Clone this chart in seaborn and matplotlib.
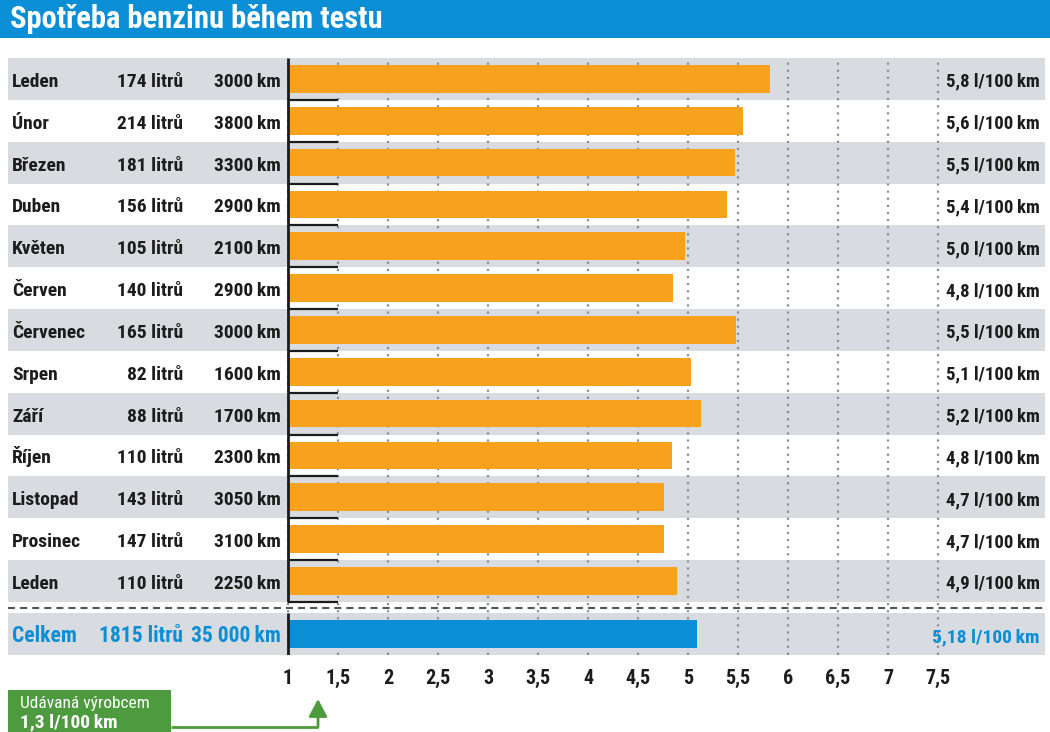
import numpy as np
import pandas as pd
import seaborn as sns
import matplotlib.pyplot as plt
from matplotlib.patches import Rectangle
from matplotlib.transforms import blended_transform_factory

THIN = "\u2009"

# data
months = ["Leden", "Únor", "Březen", "Duben", "Květen", "Červen", "Červenec",
          "Srpen", "Září", "Říjen", "Listopad", "Prosinec", "Leden"]
litres = ["174 litrů", "214 litrů", "181 litrů", "156 litrů", "105 litrů", "140 litrů",
          "165 litrů", "82 litrů", "88 litrů", "110 litrů", "143 litrů", "147 litrů",
          "110 litrů"]
distance = ["3000", "3800", "3300", "2900", "2100", "2900", "3000",
            "1600", "1700", "2300", "3050", "3100", "2250"]
consumption = ["5,8", "5,6", "5,5", "5,4", "5,0", "4,8", "5,5", "5,1",
               "5,2", "4,8", "4,7", "4,7", "4,9"]
# bar lengths as drawn in the original (l/100 km)
bar_values = [5.82, 5.55, 5.47, 5.39, 4.97, 4.85, 5.48, 5.03, 5.13, 4.84, 4.76, 4.76, 4.89]

total_name = "Celkem"
total_litres = "1815 litrů"
total_distance = "35 000"
total_consumption = "5,18"
total_value = 5.09

ticks = [1, 1.5, 2, 2.5, 3, 3.5, 4, 4.5, 5, 5.5, 6, 6.5, 7, 7.5]
tick_labels = ["1", "1,5", "2", "2,5", "3", "3,5", "4", "4,5", "5", "5,5", "6", "6,5", "7", "7,5"]
claimed = 1.3
claimed_text = ["Udávaná výrobcem", "1,3 l/100" + THIN + "km"]
title = "Spotřeba benzinu během testu"


def km(s):
    return s + THIN + "km"


def l100(s):
    return s + " l/100" + THIN + "km"


# colours
ORANGE = "#f7a11c"
BLUE = "#0a8ed6"
GRAY = "#d8dbdf"
GREEN = "#4e9a3e"
DARK = "#1c1c1c"

sns.set_style("white")
plt.rcParams["font.family"] = ["Roboto Condensed", "Liberation Sans Narrow",
                               "Roboto", "DejaVu Sans"]

origin = 1.0  # value axis starts at 1
n = len(months)
total_pos = n + 0.27

df = pd.DataFrame({"pos": np.arange(n), "value": np.array(bar_values) - origin})
df_total = pd.DataFrame({"pos": [total_pos], "value": [total_value - origin]})

fig = plt.figure(figsize=(10.5, 7.32), dpi=100)
W, H = 1050, 732
ax = fig.add_axes([8 / W, 1 - 655 / H, (1045 - 8) / W, (655 - 58) / H])

sns.barplot(data=df, x="value", y="pos", orient="h", native_scale=True,
            color=ORANGE, width=0.66, saturation=1, ax=ax, zorder=2, lw=0)
sns.barplot(data=df_total, x="value", y="pos", orient="h", native_scale=True,
            color=BLUE, width=0.66, saturation=1, ax=ax, zorder=2, lw=0)

ax.set_xlim(-2.80, 7.57)
ax.set_ylim(total_pos + 0.5, -0.5)

# alternating bands
for i in range(0, n, 2):
    ax.axhspan(i - 0.5, i + 0.5, color=GRAY, lw=0, zorder=0)
ax.axhspan(total_pos - 0.5, total_pos + 0.5, color=GRAY, lw=0, zorder=0)

# separator
ax.axhline((n - 0.5 + total_pos - 0.5) / 2, color="#555555", lw=1.5,
           linestyle=(0, (3.4, 2.4)), zorder=1)

# axis line at origin with short ticks at row boundaries
ax.vlines(0, -0.5, n - 0.5, color=DARK, lw=2, zorder=3)
ax.vlines(0, total_pos - 0.5, total_pos + 0.5, color=DARK, lw=2, zorder=3)
ax.hlines(np.arange(n) + 0.5, 0, 0.5, color=DARK, lw=1.6, zorder=3)

# grid and ticks
ax.set_xticks([t - origin for t in ticks], tick_labels)
ax.set_yticks([])
ax.set_axisbelow(True)
ax.grid(axis="x", color="#8c9096", linestyle=(0, (1, 2.2)), lw=1.6, zorder=0.5)
ax.tick_params(axis="x", length=0, pad=10, labelsize=14.5, labelcolor=DARK)
for lab in ax.get_xticklabels():
    lab.set_fontweight("bold")
ax.set_xlabel("")
ax.set_ylabel("")
for s in ax.spines.values():
    s.set_visible(False)

# row texts (baseline slightly below row centre)
base = 0.19
txt = dict(fontsize=14, fontweight="bold", va="baseline")
rtxt = dict(fontsize=13.5, fontweight="bold", va="baseline")
for i in range(n):
    ax.text(-2.76, i + base, months[i], ha="left", color=DARK, **txt)
    ax.text(-1.05, i + base, litres[i], ha="right", color=DARK, **txt)
    ax.text(-0.07, i + base, km(distance[i]), ha="right", color=DARK, **txt)
    ax.text(7.52, i + base, l100(consumption[i]), ha="right", color=DARK, **rtxt)
ttxt = dict(fontsize=15.5, fontweight="bold", va="baseline", color=BLUE)
ax.text(-2.76, total_pos + base, total_name, ha="left", **ttxt)
ax.text(-1.05, total_pos + base, total_litres, ha="right", **ttxt)
ax.text(-0.07, total_pos + base, km(total_distance), ha="right", **ttxt)
ax.text(7.52, total_pos + base, l100(total_consumption), ha="right", color=BLUE,
        fontsize=14, fontweight="bold", va="baseline")

# title bar
fig.patches.append(Rectangle((0, 1 - 38 / H), 1, 38 / H, transform=fig.transFigure,
                             color=BLUE, lw=0, zorder=0))
fig.text(10 / W, 1 - 28 / H, title, color="white", fontsize=22, fontweight="bold",
         va="baseline", ha="left")

# manufacturer's claim box + arrow
fig.patches.append(Rectangle((8 / W, 0), (171 - 8) / W, (732 - 690) / H,
                             transform=fig.transFigure, color=GREEN, lw=0, zorder=0))
fig.text(20 / W, 1 - 708 / H, claimed_text[0], color="white", fontsize=12.5,
         va="baseline", ha="left")
fig.text(20 / W, 1 - 727 / H, claimed_text[1], color="white", fontsize=14,
         fontweight="bold", va="baseline", ha="left")
blend = blended_transform_factory(ax.transData, fig.transFigure)
box_right = ax.transData.inverted().transform(fig.transFigure.transform((171 / W, 0)))[0]
y_line = 1 - 727 / H
ax.plot([box_right, claimed - origin], [y_line, y_line], color=GREEN, lw=2,
        transform=blend, clip_on=False, solid_capstyle="butt")
ax.annotate("", xy=(claimed - origin, 1 - 699 / H), xycoords=blend,
            xytext=(claimed - origin, y_line), textcoords=blend,
            arrowprops=dict(arrowstyle="-|>,head_length=0.75,head_width=0.4",
                            color=GREEN, lw=2, shrinkA=0, shrinkB=0,
                            mutation_scale=14))

fig.savefig("out.png", dpi=100)
